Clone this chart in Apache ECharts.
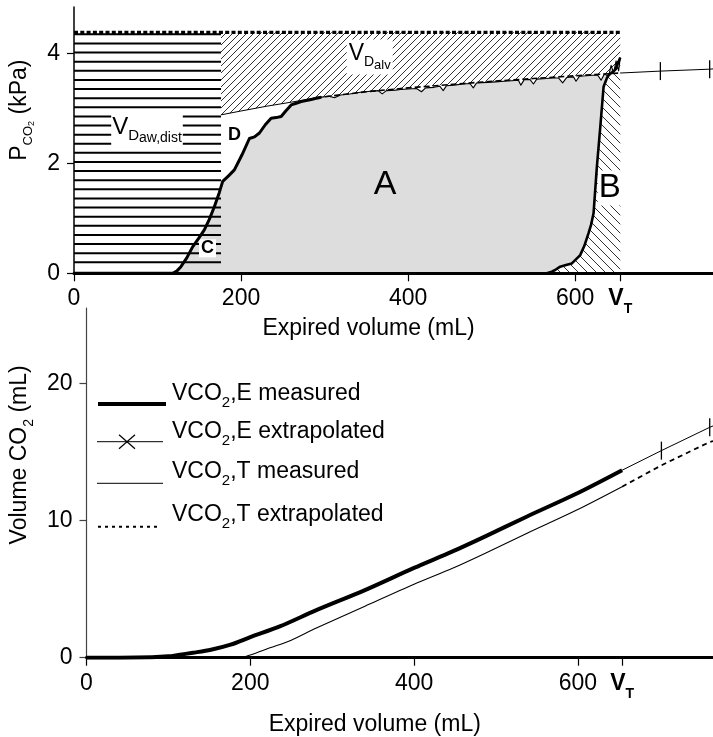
<!DOCTYPE html>
<html><head><meta charset="utf-8">
<script src="https://cdn.jsdelivr.net/npm/echarts@6/dist/echarts.min.js"></script>
<style>html,body{margin:0;padding:0;background:#fff}#c{width:713px;height:737px}</style>
</head><body><div id="c"></div>
<script>
// ---------------- data ----------------
const volTicks = [0, 200, 400, 600];
const VT = 654;                 // tidal volume (mL)
const vdawDistVol = 176;        // end of distal airway dead space (mL)
const pTop = 4.38;              // dotted reference line (kPa)
const pTicks = [0, 2, 4];
const co2Ticks = [0, 10, 20];

// top panel: measured capnogram (expiration)
const expVol  = [0, 60, 118, 123, 128, 135, 142, 149, 156, 162, 168, 174, 178, 185, 192, 201, 210, 216, 222, 229, 236, 242, 248, 254, 260, 266, 272, 278, 284, 290, 296,
                 305, 312, 319, 330, 343, 355, 364, 369, 374, 385, 391, 400, 410, 416, 421, 431, 438, 442, 446, 455, 466, 474, 478, 482, 495, 505, 515, 524, 532, 535, 539, 546, 550, 554, 566, 573, 580, 585, 590, 598, 601, 605, 614, 620, 627, 631, 635, 640, 643, 646, 649, 652, 654];
const expPco2 = [0, 0, 0, 0.04, 0.12, 0.28, 0.48, 0.63, 0.79, 0.98, 1.21, 1.47, 1.67, 1.77, 1.88, 2.15, 2.45, 2.48, 2.55, 2.70, 2.82, 2.83, 2.85, 2.96, 3.06, 3.09, 3.12, 3.14, 3.16, 3.18, 3.20,
                 3.22, 3.19, 3.24, 3.26, 3.29, 3.31, 3.32, 3.26, 3.32, 3.33, 3.34, 3.35, 3.36, 3.30, 3.37, 3.38, 3.40, 3.32, 3.41, 3.42, 3.44, 3.45, 3.37, 3.46, 3.47, 3.48, 3.49, 3.50, 3.51, 3.42, 3.52, 3.52, 3.44, 3.53, 3.54, 3.55, 3.55, 3.46, 3.56, 3.57, 3.49, 3.58, 3.59, 3.60, 3.60, 3.51, 3.62, 3.58, 3.78, 3.64, 3.86, 3.68, 3.92];
// top panel: measured capnogram (inspiration, phase "B")
const inspVol  = [654, 648, 640, 638, 634, 630, 626, 622, 619, 616, 611, 606, 600, 596, 589, 582, 576, 572, 566];
const inspPco2 = [3.92, 3.70, 3.60, 3.55, 3.39, 2.65, 1.94, 1.09, 0.88, 0.73, 0.50, 0.33, 0.24, 0.18, 0.15, 0.12, 0.06, 0.03, 0];
// top panel: extrapolated alveolar plateau
const extVol  = [176, 200, 230, 260, 290, 350, 400, 450, 500, 550, 600, 654, 702, 761, 765];
const extPco2 = [2.88, 2.95, 3.035, 3.11, 3.19, 3.30, 3.37, 3.43, 3.49, 3.54, 3.59, 3.64, 3.675, 3.71, 3.715];
const markerVol = [702, 761];

// bottom panel: cumulative CO2 volumes
const eMeasVol = [0, 40, 80, 100, 112, 130, 152, 176, 200, 236, 280, 340, 400, 447, 487, 538, 598, 654];
const eMeasCo2 = [0, 0, 0.03, 0.1, 0.2, 0.36, 0.58, 0.95, 1.5, 2.28, 3.45, 4.93, 6.55, 7.75, 8.85, 10.3, 11.95, 13.67];
const eExtVol  = [654, 702, 761, 765];
const eExtCo2  = [13.67, 15.1, 16.8, 16.9];
const tMeasVol = [188, 200, 224, 250, 280, 340, 400, 447, 487, 538, 598, 654];
const tMeasCo2 = [0, 0.2, 0.72, 1.28, 2.14, 3.75, 5.35, 6.52, 7.62, 9.08, 10.75, 12.47];
const tExtVol  = [654, 702, 761, 765];
const tExtCo2  = [12.47, 14.03, 15.73, 15.8];

// ---------------- helpers ----------------
const ff = "'Liberation Sans', Arial, Helvetica, sans-serif";
const zip = (xs, ys) => xs.map((x, i) => [x, ys[i]]);
const pick = (xs, ys, lo, hi) => zip(xs, ys).filter(p => p[0] >= lo && p[0] <= hi);

function hatch(size, dir, color, lw) {
  const c = document.createElement('canvas');
  c.width = size; c.height = size;
  const g = c.getContext('2d');
  g.strokeStyle = color; g.lineWidth = lw;
  g.beginPath();
  for (let k = -1; k <= 1; k++) {
    if (dir === '/') { g.moveTo(k * size, size); g.lineTo(k * size + size, 0); }
    else { g.moveTo(k * size, 0); g.lineTo(k * size + size, size); }
  }
  g.stroke();
  return { image: c, repeat: 'repeat' };
}

function polySeries(name, buildPts, style, z) {
  return {
    type: 'custom', name, xAxisIndex: 0, yAxisIndex: 0, z, silent: true,
    data: [[0, 0]], encode: { x: 0, y: 1 },
    renderItem(params, api) {
      return { type: 'polygon', shape: { points: buildPts().map(p => api.coord(p)) }, style };
    }
  };
}

function lineSeries(name, data, lw, type, xi, z, extra) {
  return Object.assign({
    type: 'line', name, data, xAxisIndex: xi, yAxisIndex: xi, z: z || 10,
    symbol: 'none', showSymbol: false, silent: true, animation: false,
    lineStyle: { color: '#000', width: lw, type: type || 'solid', join: 'round' },
    emphasis: { disabled: true }
  }, extra || {});
}

function withMarkers(pts) {
  return pts.map(p => markerVol.indexOf(p[0]) >= 0
    ? { value: p, symbol: 'rect', symbolSize: [1.3, 18], itemStyle: { color: '#000' } }
    : { value: p, symbol: 'none' });
}

// ---------------- axes ----------------
function xAxisDef(gi, nameGap) {
  return {
    type: 'value', gridIndex: gi, min: 0, max: 765, z: 20,
    axisLine: { show: true, onZero: false, lineStyle: { color: '#000', width: 3 } },
    axisTick: { show: true, customValues: volTicks.concat([VT]), length: 8, lineStyle: { color: '#000', width: 1.2 } },
    axisLabel: {
      customValues: volTicks.concat([VT]), margin: 14, color: '#000', fontSize: 23, fontFamily: ff,
      formatter: v => v === VT ? '{v|V}{t|T}' : String(v),
      rich: {
        v: { fontSize: 23, fontWeight: 'bold', fontFamily: ff, color: '#000', padding: [0, 0, 6, 0], verticalAlign: 'bottom' },
        t: { fontSize: 14, fontWeight: 'bold', fontFamily: ff, color: '#000', verticalAlign: 'bottom' }
      }
    },
    splitLine: { show: false },
    name: 'Expired volume (mL)', nameLocation: 'middle', nameGap,
    nameTextStyle: { fontSize: 23, fontFamily: ff, color: '#000', padding: [0, 50, 0, 0] }
  };
}

const nameRich = {
  m: { fontSize: 23, fontFamily: ff, color: '#000', padding: [0, 0, 5, 0], verticalAlign: 'bottom' },
  s: { fontSize: 13, fontFamily: ff, color: '#000', padding: [0, 0, 1, 0], verticalAlign: 'bottom' },
  ss: { fontSize: 9, fontFamily: ff, color: '#000', verticalAlign: 'bottom' },
  sb: { fontSize: 14, fontFamily: ff, color: '#000', verticalAlign: 'bottom' }
};

const option = {
  animation: false,
  backgroundColor: '#fff',
  grid: [
    { left: 73, right: 0, top: 7, bottom: 463.7 },
    { left: 73, right: 0, top: 308, bottom: 79.3 }
  ],
  xAxis: [xAxisDef(0, 42), xAxisDef(1, 55)],
  yAxis: [
    {
      type: 'value', gridIndex: 0, min: 0, max: 4.84,
      axisLine: { show: true, onZero: false, lineStyle: { color: '#000', width: 1.5 } },
      axisTick: { show: true, customValues: pTicks, length: 7, lineStyle: { color: '#000', width: 1.2 } },
      axisLabel: { customValues: pTicks, margin: 14, color: '#000', fontSize: 23, fontFamily: ff },
      splitLine: { show: false },
      name: '{m|P}{s|CO}{ss|2}{m| (kPa)}', nameLocation: 'middle', nameGap: 38,
      nameTextStyle: { rich: nameRich, padding: [0, 0, 0, 60] }
    },
    {
      type: 'value', gridIndex: 1, min: 0, max: 25.5,
      axisLine: { show: true, onZero: false, lineStyle: { color: '#444', width: 1.2 } },
      axisTick: { show: true, customValues: co2Ticks, length: 7, lineStyle: { color: '#444', width: 1.2 } },
      axisLabel: { customValues: co2Ticks, margin: 14, color: '#000', fontSize: 23, fontFamily: ff },
      splitLine: { show: false },
      name: '{m|Volume CO}{sb|2}{m| (mL)}', nameLocation: 'middle', nameGap: 44,
      nameTextStyle: { rich: nameRich, padding: [0, 0, 0, 56] }
    }
  ],
  series: [
    // hatched alveolar dead space region (V_Dalv)
    polySeries('VDalv', () => [[vdawDistVol, pTop], [VT, pTop]]
      .concat(pick(extVol, extPco2, vdawDistVol, VT).reverse()),
      { fill: hatch(7, '/', '#333', 1), stroke: null }, 1),
    // hatched region B
    polySeries('B', () => [[VT, pick(extVol, extPco2, VT, VT)[0][1]]]
      .concat(zip(inspVol, inspPco2).filter(p => p[0] <= 640)).concat([[VT, 0]]),
      { fill: hatch(9, '\\', '#333', 1), stroke: null }, 1),
    // grey area A
    polySeries('A', () => pick(expVol, expPco2, 118, VT).concat(zip(inspVol, inspPco2)),
      { fill: '#dddddd', stroke: null }, 2),
    // horizontal hatch: V_Daw,dist
    {
      type: 'custom', name: 'VDaw', xAxisIndex: 0, yAxisIndex: 0, z: 3, silent: true,
      data: [[0, 0]], encode: { x: 0, y: 1 },
      renderItem(params, api) {
        const tl = api.coord([0, pTop]), br = api.coord([vdawDistVol, 0]);
        const children = [];
        for (let y = tl[1] + 2; y < br[1] - 4; y += 9.12) {
          children.push({ type: 'line', shape: { x1: tl[0], y1: y, x2: br[0], y2: y }, style: { stroke: '#000', lineWidth: 2 } });
        }
        return { type: 'group', children };
      }
    },
    lineSeries('PCO2 rising', pick(expVol, expPco2, 0, 296), 3, 'solid', 0),
    lineSeries('PCO2 plateau', pick(expVol, expPco2, 296, VT), 1.1, 'solid', 0),
    lineSeries('PCO2 inspiration', zip(inspVol, inspPco2), 2.6, 'solid', 0),
    lineSeries('plateau fit', pick(extVol, extPco2, vdawDistVol, 290), 1, 'solid', 0, 11),
    lineSeries('plateau fit dashed', pick(extVol, extPco2, 290, VT), 1.6, [6, 3], 0, 11),
    lineSeries('plateau fit extrap', withMarkers(pick(extVol, extPco2, VT, 765)), 1, 'solid', 0, 11, { showSymbol: true }),
    lineSeries('reference', [[0, pTop], [VT, pTop]], 3.2, [4, 2.3], 0, 12),
    // bottom panel
    lineSeries('VCO2,E measured', zip(eMeasVol, eMeasCo2), 4, 'solid', 1, 10, { smooth: 0.3 }),
    lineSeries('VCO2,E extrapolated', withMarkers(zip(eExtVol, eExtCo2)), 1, 'solid', 1, 10, { showSymbol: true }),
    lineSeries('VCO2,T measured', zip(tMeasVol, tMeasCo2), 1.1, 'solid', 1, 10, { smooth: 0.3 }),
    lineSeries('VCO2,T extrapolated', zip(tExtVol, tExtCo2), 1.8, [5, 4], 1, 10)
  ]
};

// ---------------- annotations / legend (graphic) ----------------
const rb = (size, extra) => Object.assign({ fontSize: size, fontFamily: ff, fill: '#000' }, extra || {});
const legRich = {
  m: rb(23, { padding: [0, 0, 5, 0], verticalAlign: 'bottom' }),
  s: rb(15, { verticalAlign: 'bottom' })
};
function legText(y, label) {
  return { type: 'text', x: 172, y, z: 30, style: { text: '{m|V}{m|CO}{s|2}{m|' + label + '}', rich: legRich, align: 'left', verticalAlign: 'middle' } };
}
function hline(x1, x2, y, w, dash) {
  return { type: 'line', z: 30, shape: { x1, y1: y, x2, y2: y }, style: { stroke: '#000', lineWidth: w, lineDash: dash || null } };
}
option.graphic = [
  // top panel labels
  { type: 'text', x: 147, y: 130, z: 5, style: {
      text: '{v|V}{d|D}{s|aw,dist}', align: 'center', verticalAlign: 'middle', backgroundColor: '#fff', padding: [2, 1, 2, 1],
      rich: { v: rb(24, { padding: [0, 0, 6, 0], verticalAlign: 'bottom' }), d: rb(15, { padding: [0, 0, 2, 0], verticalAlign: 'bottom' }), s: rb(14, { verticalAlign: 'bottom' }) } } },
  { type: 'text', x: 234.5, y: 135, z: 5, style: { text: 'D', font: 'bold 18px ' + ff, fill: '#000', align: 'center', verticalAlign: 'middle' } },
  { type: 'text', x: 207.5, y: 248.3, z: 5, style: { text: 'C', font: 'bold 18px ' + ff, fill: '#000', align: 'center', verticalAlign: 'middle', backgroundColor: '#fff', padding: [0, 2, 0, 2] } },
  { type: 'text', x: 369.7, y: 57, z: 5, style: {
      text: '{v|V}{d|D}{s|alv}', align: 'center', verticalAlign: 'middle', backgroundColor: '#fff', padding: [3, 2, 3, 2],
      rich: { v: rb(23, { padding: [0, 0, 6, 0], verticalAlign: 'bottom' }), d: rb(14, { padding: [0, 0, 2, 0], verticalAlign: 'bottom' }), s: rb(13, { verticalAlign: 'bottom' }) } } },
  { type: 'text', x: 385, y: 185, z: 5, style: { text: 'A', font: '34px ' + ff, fill: '#000', align: 'center', verticalAlign: 'middle' } },
  { type: 'text', x: 609.7, y: 188, z: 5, style: { text: 'B', font: '33px ' + ff, fill: '#000', align: 'center', verticalAlign: 'middle', backgroundColor: '#fff', padding: [2, 1, 0, 1] } },
  // bottom legend
  hline(98, 166, 404, 4),
  legText(396, ',E measured'),
  hline(97, 163, 441.7, 1),
  { type: 'line', z: 30, shape: { x1: 119, y1: 434.7, x2: 135, y2: 448.7 }, style: { stroke: '#000', lineWidth: 1.2 } },
  { type: 'line', z: 30, shape: { x1: 119, y1: 448.7, x2: 135, y2: 434.7 }, style: { stroke: '#000', lineWidth: 1.2 } },
  legText(434, ',E extrapolated'),
  hline(97, 163, 483.3, 1),
  legText(474, ',T measured'),
  hline(98, 161, 526.7, 2, [3, 4]),
  legText(517, ',T extrapolated')
];

const chart = echarts.init(document.getElementById('c'), null, { renderer: 'canvas' });
chart.setOption(option);
</script>
</body></html>
